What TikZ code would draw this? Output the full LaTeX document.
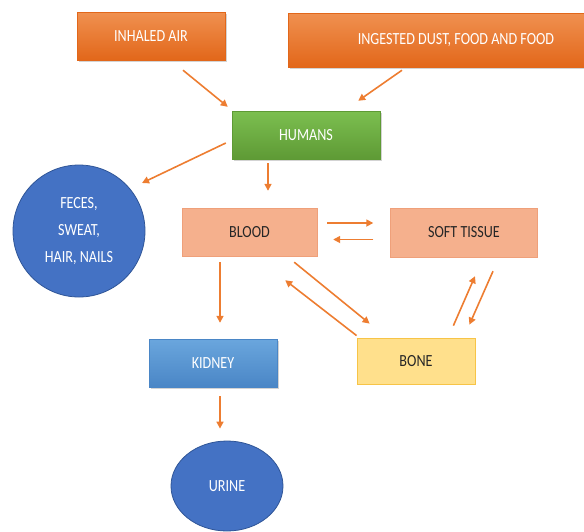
\documentclass[tikz,border=0pt]{standalone}
\usepackage{fontspec}
\setmainfont[FakeStretch=0.83]{Carlito}
\usetikzlibrary{arrows.meta,shapes.geometric,shadows}
\definecolor{flame}{HTML}{ED7D31}
\definecolor{flamedark}{HTML}{E2671A}
\definecolor{leaf}{HTML}{7CBF50}
\definecolor{leafdark}{HTML}{5E9A35}
\definecolor{peach}{HTML}{F5B08D}
\definecolor{peachline}{HTML}{EFA07A}
\definecolor{sky}{HTML}{6AA6DD}
\definecolor{skydark}{HTML}{4A86C6}
\definecolor{butter}{HTML}{FFE08C}
\definecolor{butterline}{HTML}{F7C447}
\definecolor{ocean}{HTML}{4472C4}
\definecolor{oceanline}{HTML}{2F5597}

\begin{document}
\begin{tikzpicture}[
  x=1pt, y=-1pt,
  box/.style={minimum height=48pt, inner sep=2pt,
              font=\fontsize{17}{20}\selectfont, align=center},
  source/.style={box, top color=flame!85!white, bottom color=flamedark,
                 draw=flamedark, text=white,
                 drop shadow={opacity=0.35, shadow xshift=1.5pt, shadow yshift=-2pt}},
  hub/.style={box, top color=leaf, bottom color=leafdark, draw=leafdark,
              text=white,
              drop shadow={opacity=0.35, shadow xshift=1.5pt, shadow yshift=-2pt}},
  organ/.style={box, fill=peach, draw=peachline, text=black!85},
  filter/.style={box, top color=sky, bottom color=skydark, draw=skydark,
                 text=white,
                 drop shadow={opacity=0.35, shadow xshift=1.5pt, shadow yshift=-2pt}},
  store/.style={box, fill=butter, draw=butterline, line width=0.8pt, text=black!85},
  outlet/.style={ellipse, fill=ocean, draw=oceanline, line width=0.8pt,
                 text=white, inner sep=0pt, align=center,
                 font=\fontsize{17}{27}\selectfont},
  arr/.style={-{Triangle[length=7pt, width=7pt]}, line width=1.6pt, flame},
]
\useasboundingbox (0,0) rectangle (584,531);

% sources
\node[source, minimum width=148pt] (air)    at (151,36) {INHALED AIR};
\node[source, minimum width=336pt, minimum height=54pt] (ingest) at (456,40)
  {INGESTED DUST, FOOD AND FOOD};
\node[hub, minimum width=148pt]    (humans) at (306,135) {HUMANS};

% compartments
\node[outlet, minimum width=132pt, minimum height=132pt] (feces) at (79,231)
  {FECES,\\SWEAT,\\HAIR, NAILS};
\node[organ, minimum width=135pt]  (blood)  at (249.5,232) {BLOOD};
\node[organ, minimum width=147pt, minimum height=49pt] (soft) at (464,232.5)
  {SOFT TISSUE};
\node[filter, minimum width=128pt] (kidney) at (213,363) {KIDNEY};
\node[store, minimum width=118pt, minimum height=46pt] (bone) at (416,361) {BONE};
\node[outlet, minimum width=112pt, minimum height=90pt] (urine) at (227,486) {URINE};

% intake
\draw[arr] ([xshift=32pt, yshift=-10pt]air.south)
        -- ([xshift=-4pt, yshift=4pt]humans.north west);
\draw[arr] ([xshift=-54pt, yshift=-3pt]ingest.south)
        -- ([xshift=-22pt, yshift=10pt]humans.north east);

% from humans
\draw[arr] ([xshift=-6pt, yshift=-8pt]humans.west)
        -- ([xshift=63pt, yshift=48pt]feces.center);
\draw[arr, shorten <=4pt, shorten >=17pt]
  ([xshift=-38pt]humans.south) -- ([xshift=18.5pt]blood.north);

% blood <-> soft tissue
\draw[arr, shorten <=10pt, shorten >=17pt]
  ([yshift=9pt]blood.east) -- ([yshift=9pt]blood.east -| soft.west);
\draw[arr, shorten <=17pt, shorten >=16pt]
  ([yshift=-7pt]soft.west) -- ([yshift=-7pt]soft.west -| blood.east);

% blood <-> bone
\draw[arr] ([xshift=-23pt, yshift=-6pt]blood.south east)
        -- ([xshift=13pt, yshift=14pt]bone.north west);
\draw[arr] ([yshift=2pt]bone.north west)
        -- ([xshift=-32pt, yshift=-24pt]blood.south east);

% bone <-> soft tissue
\draw[arr] ([xshift=-22pt, yshift=12pt]bone.north east)
        -- ([xshift=11pt, yshift=-19pt]soft.south);
\draw[arr] ([xshift=29pt, yshift=-14pt]soft.south)
        -- ([xshift=-6pt, yshift=13pt]bone.north east);

% excretion
\draw[arr, shorten <=6pt, shorten >=16pt]
  ([xshift=-29.5pt]blood.south) -- ([xshift=7pt]kidney.north);
\draw[arr, shorten <=9pt, shorten >=12pt]
  ([xshift=7pt]kidney.south) -- ([xshift=-7pt]urine.north);
\end{tikzpicture}
\end{document}
